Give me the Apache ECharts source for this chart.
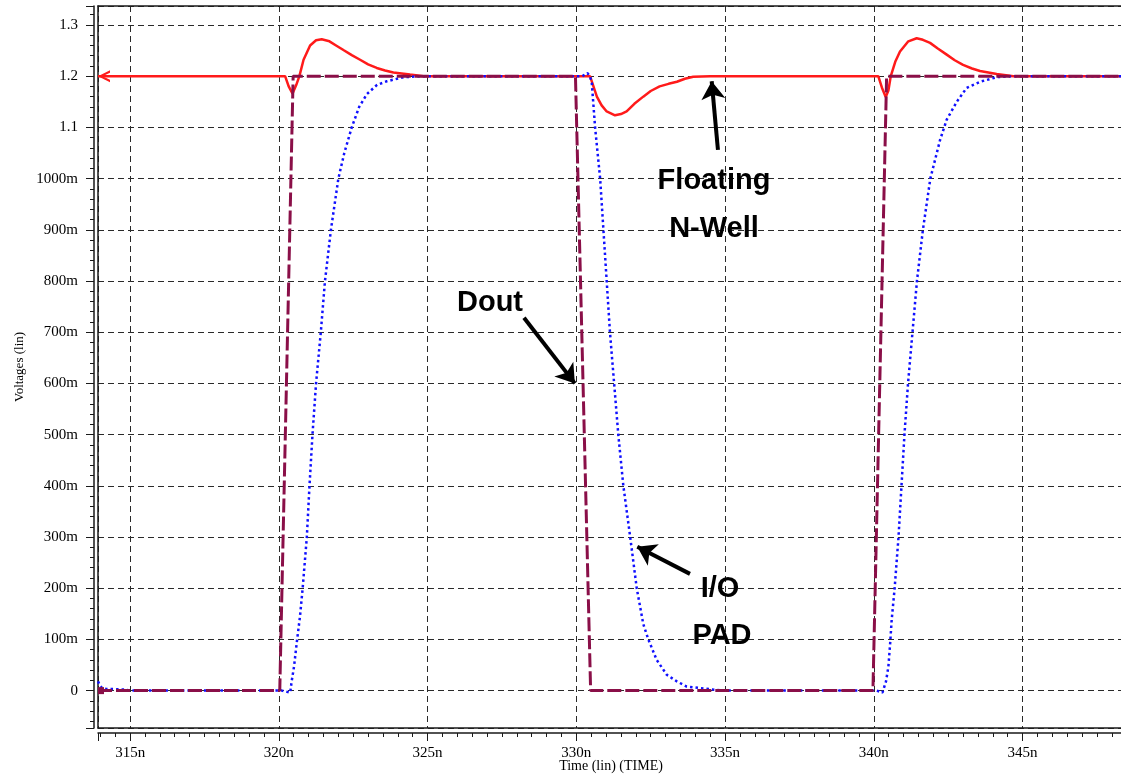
<!DOCTYPE html>
<html>
<head>
<meta charset="utf-8">
<title>Floating N-Well transient</title>
<script src="https://cdn.jsdelivr.net/npm/echarts@6/dist/echarts.min.js"></script>
<style>
  html, body { margin: 0; padding: 0; background: #ffffff; }
  #chart { width: 1121px; height: 778px; }
</style>
</head>
<body>
<div id="chart"></div>
<script>
// Axis extents (time in ns, voltage in V)
const timeRange = [313.92, 348.41];
const voltRange = [-0.073, 1.337];

// Tick values and the labels printed for them
const timeTicks = [315, 320, 325, 330, 335, 340, 345];
const timeTickLabels = ['315n', '320n', '325n', '330n', '335n', '340n', '345n'];
const voltTicks = [0, 0.1, 0.2, 0.3, 0.4, 0.5, 0.6, 0.7, 0.8, 0.9, 1.0, 1.1, 1.2, 1.3];
const voltTickLabels = ['0', '100m', '200m', '300m', '400m', '500m', '600m', '700m', '800m', '900m', '1000m', '1.1', '1.2', '1.3'];

// Floating N-Well voltage [ns, V]
const nwell = [
  [313.92, 1.2], [320.21, 1.2], [320.33, 1.18], [320.46, 1.166], [320.58, 1.182], [320.69, 1.2],
  [320.83, 1.232], [321.05, 1.26], [321.25, 1.27], [321.44, 1.272], [321.7, 1.268], [321.95, 1.259],
  [322.17, 1.251], [322.45, 1.241], [322.73, 1.232], [323.0, 1.223], [323.29, 1.216], [323.57, 1.211],
  [323.85, 1.207], [324.41, 1.203], [324.86, 1.2], [330.46, 1.2], [330.69, 1.16], [330.85, 1.143],
  [331.02, 1.131], [331.3, 1.1235], [331.5, 1.126], [331.69, 1.131], [331.95, 1.146], [332.25, 1.16],
  [332.5, 1.171], [332.8, 1.18], [333.1, 1.185], [333.38, 1.189], [333.65, 1.195], [333.93, 1.199],
  [334.5, 1.2], [340.15, 1.2], [340.27, 1.178], [340.4, 1.159], [340.49, 1.172], [340.57, 1.2],
  [340.72, 1.228], [340.88, 1.248], [341.16, 1.268], [341.44, 1.274], [341.65, 1.271], [341.89, 1.265],
  [342.15, 1.254], [342.45, 1.242], [342.72, 1.231], [343.0, 1.222], [343.3, 1.215], [343.57, 1.21],
  [344.13, 1.204], [344.69, 1.2], [348.41, 1.2]
];

// Dout drive signal [ns, V]
const dout = [
  [313.92, 0], [320.03, 0], [320.48, 1.2], [329.97, 1.2], [330.48, 0],
  [339.97, 0], [340.43, 1.2], [348.41, 1.2]
];

// I/O PAD voltage [ns, V]
const pad = [
  [313.92, 0.018], [313.97, 0.012], [314.05, 0.005], [314.2, 0.003], [314.5, 0.003], [314.8, 0.002],
  [315.0, 0], [320.1, 0], [320.25, -0.002], [320.38, -0.004], [320.43, 0.018], [320.51, 0.047],
  [320.6, 0.093], [320.71, 0.145], [320.8, 0.2], [320.94, 0.3], [321.03, 0.4], [321.13, 0.5],
  [321.25, 0.6], [321.41, 0.7], [321.55, 0.8], [321.75, 0.9], [322.0, 1.0], [322.2, 1.05],
  [322.45, 1.1], [322.7, 1.14], [322.96, 1.165], [323.3, 1.183], [323.63, 1.19], [324.19, 1.198],
  [324.86, 1.2], [330.2, 1.2], [330.37, 1.206], [330.46, 1.2], [330.52, 1.186], [330.63, 1.1],
  [330.8, 1.0], [330.91, 0.9], [331.02, 0.8], [331.13, 0.7], [331.27, 0.6], [331.41, 0.5],
  [331.58, 0.4], [331.81, 0.3], [332.03, 0.2], [332.25, 0.13], [332.42, 0.1], [332.7, 0.06],
  [333.04, 0.031], [333.38, 0.018], [333.71, 0.008], [334.16, 0.005], [334.6, 0.002], [335.0, 0],
  [340.1, 0], [340.2, -0.002], [340.29, -0.004], [340.41, 0.018], [340.49, 0.047], [340.55, 0.093],
  [340.6, 0.138], [340.7, 0.2], [340.83, 0.3], [340.93, 0.4], [341.03, 0.5], [341.15, 0.6],
  [341.3, 0.7], [341.45, 0.8], [341.65, 0.9], [341.9, 1.0], [342.23, 1.076], [342.45, 1.115],
  [342.79, 1.15], [343.12, 1.177], [343.57, 1.189], [344.13, 1.198], [344.69, 1.2], [348.41, 1.2]
];

// Callout arrows: tail -> head, in [ns, V]
const callouts = [
  [[334.76, 1.056], [334.55, 1.19]],
  [[328.24, 0.728], [329.95, 0.60]],
  [[333.82, 0.228], [332.05, 0.281]]
];

// Callout captions: text and pixel centre
const captions = [
  ['Floating', 714, 181],
  ['N-Well', 714, 229],
  ['Dout', 490, 303],
  ['I/O', 720, 589],
  ['PAD', 722, 636]
];

function lookup(ticks, labels, v) {
  for (let i = 0; i < ticks.length; i++) {
    if (Math.abs(ticks[i] - v) < 1e-6) return labels[i];
  }
  return '';
}

const serif = '"Liberation Serif", "Times New Roman", serif';
const sans = '"Liberation Sans", Arial, sans-serif';
const ink = '#1a1a1a';

// A bare axis used only to draw one edge of the plot frame
function frameAxis(position, extent) {
  return {
    type: 'value', position: position, offset: 0,
    min: extent[0], max: extent[1],
    axisLine: { show: true, onZero: false, lineStyle: { color: ink, width: 1.5 } },
    axisTick: { show: false }, minorTick: { show: false },
    axisLabel: { show: false }, splitLine: { show: false }
  };
}

const chart = echarts.init(document.getElementById('chart'), null, { renderer: 'canvas' });

const gridDash = { color: '#2a2a2a', width: 1, type: [6, 4] };

chart.setOption({
  backgroundColor: '#ffffff',
  animation: false,
  grid: {
    left: 98, right: -3, top: 6, bottom: 50, show: false,
    containLabel: false, outerBoundsMode: 'none'
  },
  xAxis: [
    {
      type: 'value',
      position: 'bottom',
      min: timeRange[0], max: timeRange[1],
      splitNumber: 7,
      offset: 5,
      name: 'Time (lin) (TIME)',
      nameLocation: 'middle',
      nameGap: 26,
      nameMoveOverlap: false,
      nameTextStyle: { fontFamily: serif, fontSize: 14, color: '#000' },
      axisLine: { show: true, onZero: false, lineStyle: { color: ink, width: 1.5 } },
      axisTick: { show: true, length: 8, lineStyle: { color: ink, width: 1 } },
      minorTick: { show: true, splitNumber: 10, length: 4, lineStyle: { color: ink, width: 1 } },
      axisLabel: {
        show: true, margin: 13, fontFamily: serif, fontSize: 15, color: '#000',
        showMinLabel: false, showMaxLabel: false,
        formatter: v => lookup(timeTicks, timeTickLabels, v)
      },
      splitLine: { show: true, lineStyle: gridDash }
    },
    frameAxis('top', timeRange),
    frameAxis('bottom', timeRange)
  ],
  yAxis: [
    {
      type: 'value',
      position: 'left',
      min: voltRange[0], max: voltRange[1],
      splitNumber: 14,
      offset: 4,
      name: 'Voltages (lin)',
      nameLocation: 'middle',
      nameGap: 68,
      nameMoveOverlap: false,
      nameRotate: 90,
      nameTextStyle: { fontFamily: serif, fontSize: 13, color: '#000' },
      axisLine: { show: true, onZero: false, lineStyle: { color: ink, width: 1.5 } },
      axisTick: { show: true, length: 8, lineStyle: { color: ink, width: 1 } },
      minorTick: { show: true, splitNumber: 5, length: 4, lineStyle: { color: ink, width: 1 } },
      axisLabel: {
        show: true, margin: 16, fontFamily: serif, fontSize: 15, color: '#000',
        showMinLabel: false, showMaxLabel: false,
        formatter: v => lookup(voltTicks, voltTickLabels, v)
      },
      splitLine: { show: true, lineStyle: gridDash }
    },
    frameAxis('left', voltRange)
  ],
  series: [
    {
      name: 'Floating N-Well',
      type: 'line',
      data: nwell,
      symbol: 'none',
      z: 3,
      lineStyle: { color: '#ff1a1a', width: 2.5 },
      markPoint: {
        symbol: 'path://M12,0 L0,6 L12,12 L12,9.5 L4.5,6 L12,2.5 Z',
        symbolSize: [12, 12],
        symbolOffset: [6, 0],
        itemStyle: { color: '#ff1a1a' },
        label: { show: false },
        data: [{ coord: [timeRange[0], 1.2] }]
      }
    },
    {
      name: 'I/O PAD',
      type: 'line',
      data: pad,
      symbol: 'none',
      z: 4,
      lineStyle: { color: '#1010ff', width: 2.5, type: [2.5, 3], cap: 'butt' }
    },
    {
      name: 'Dout',
      type: 'line',
      data: dout,
      symbol: 'none',
      z: 5,
      lineStyle: { color: '#8a0f48', width: 3, type: [14, 4], cap: 'butt' },
      markPoint: {
        symbol: 'rect',
        symbolSize: [6, 7],
        symbolOffset: [3, 0],
        itemStyle: { color: '#8a0f48' },
        label: { show: false },
        data: [{ coord: [timeRange[0], 0] }]
      }
    },
    {
      name: 'callouts',
      type: 'lines',
      coordinateSystem: 'cartesian2d',
      z: 6,
      symbol: ['none', 'arrow'],
      symbolSize: [14, 18],
      lineStyle: { color: '#000', width: 4, opacity: 1, curveness: 0 },
      data: callouts.map(c => ({ coords: c }))
    }
  ],
  graphic: captions.map(([text, cx, cy]) => ({
    type: 'text',
    x: cx,
    y: cy,
    z: 10,
    style: {
      text: text, fontFamily: sans, fontWeight: 'bold', fontSize: 29, fill: '#000',
      align: 'center', verticalAlign: 'middle'
    }
  }))
});
</script>
</body>
</html>
